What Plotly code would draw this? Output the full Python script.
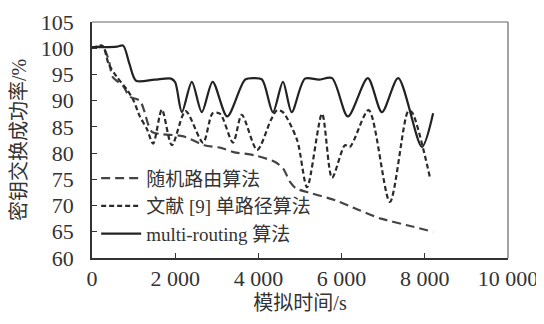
import plotly.graph_objects as go

# ---- data ----
x_random = [0, 250, 400, 500, 750, 900, 1150, 1250, 1350, 1450, 1700, 2200, 2700, 3100, 3400, 3900, 4400, 4600, 4760, 4900, 5200, 5850, 6400, 6950, 7550, 8200]
y_random = [100, 100.3, 97.8, 94.5, 92.8, 90.8, 90, 88.2, 85.5, 84, 83.6, 83.2, 81.5, 81, 80.2, 79.6, 78.3, 77, 74.5, 73.3, 72.5, 71, 69.2, 67.5, 66.3, 65]

x_single = [0, 250, 400, 600, 850, 1000, 1150, 1320, 1470, 1680, 1920, 2250, 2670, 2900, 3080, 3390, 3600, 3970, 4300, 4450, 4590, 4930, 5170, 5530, 5770, 6080, 6200, 6650, 7160, 7600, 7690, 8125]
y_single = [100, 100.5, 97, 94.5, 92, 90, 87, 84.6, 81.8, 88.3, 81.5, 88, 82, 87.6, 87.5, 82, 87.3, 80.6, 86.3, 88.2, 87.8, 82.5, 73.5, 87.5, 75.3, 81.5, 81.2, 88.2, 70.7, 88, 87.8, 75.3]

x_multi = [0, 300, 600, 750, 900, 1060, 1500, 1900, 2000, 2160, 2400, 2640, 2900, 3250, 3680, 3900, 4090, 4350, 4590, 4800, 5120, 5450, 5770, 6150, 6630, 6970, 7360, 7930, 8200]
y_multi = [100.2, 100.2, 100.3, 100.5, 97, 93.8, 94, 94.2, 93.5, 87.8, 93.6, 87.8, 93.6, 87, 94, 94.3, 94, 87.8, 93.6, 87.8, 94.2, 94.0, 94.3, 87, 94.3, 87.8, 94.3, 81.2, 87.6]

x_tickvals = [0, 2000, 4000, 6000, 8000, 10000]
x_ticktext = ["0", "2 000", "4 000", "6 000", "8 000", "10 000"]
y_tickvals = [60, 65, 70, 75, 80, 85, 90, 95, 100, 105]

names = ["随机路由算法", "文献 [9] 单路径算法", "multi-routing 算法"]

FONT = "Liberation Serif, Times New Roman, Noto Sans CJK SC, serif"

fig = go.Figure()
fig.add_trace(go.Scatter(x=x_random, y=y_random, mode="lines", name=names[0],
                         line=dict(color="#444444", width=2.2, dash="9px,5px", shape="spline", smoothing=0.8)))
fig.add_trace(go.Scatter(x=x_single, y=y_single, mode="lines", name=names[1],
                         line=dict(color="#2a2a2a", width=2.2, dash="5px,3px", shape="spline", smoothing=0.8)))
fig.add_trace(go.Scatter(x=x_multi, y=y_multi, mode="lines", name=names[2],
                         line=dict(color="#222222", width=2.2, shape="spline", smoothing=0.8)))

# page has an 8px body margin, so the figure is 536x316 placed at (8,8)
fig.update_layout(
    width=536, height=316,
    margin=dict(l=84, r=36, t=14, b=66, autoexpand=False),
    paper_bgcolor="white", plot_bgcolor="white",
    font=dict(family=FONT, size=22, color="#333333"),
    showlegend=True,
    legend=dict(x=0.01, y=0.02, xanchor="left", yanchor="bottom",
                bgcolor="rgba(0,0,0,0)", font=dict(size=19, color="#333333"),
                tracegroupgap=0, itemwidth=40),
)
fig.update_xaxes(range=[0, 10000], tickvals=x_tickvals, ticktext=x_ticktext, automargin=False,
                 ticks="inside", ticklen=5, tickcolor="#333", showgrid=False, zeroline=False,
                 showline=True, linecolor="#333", linewidth=1.5,
                 title=dict(text="模拟时间/s", font=dict(size=20), standoff=6))
fig.update_yaxes(range=[60, 105], tickvals=y_tickvals, automargin=False,
                 ticks="inside", ticklen=5, tickcolor="#333", showgrid=False, zeroline=False,
                 showline=True, linecolor="#333", linewidth=1.5, ticklabelstandoff=12,
                 title=dict(text="密钥交换成功率/%", font=dict(size=20), standoff=10))
# top & right frame
fig.add_shape(type="line", xref="paper", yref="paper", x0=0, x1=1, y0=1, y1=1,
              line=dict(color="#666", width=1.2))
fig.add_shape(type="line", xref="paper", yref="paper", x0=1, x1=1, y0=0, y1=1,
              line=dict(color="#666", width=1.2))

fig.write_html("out.html")
